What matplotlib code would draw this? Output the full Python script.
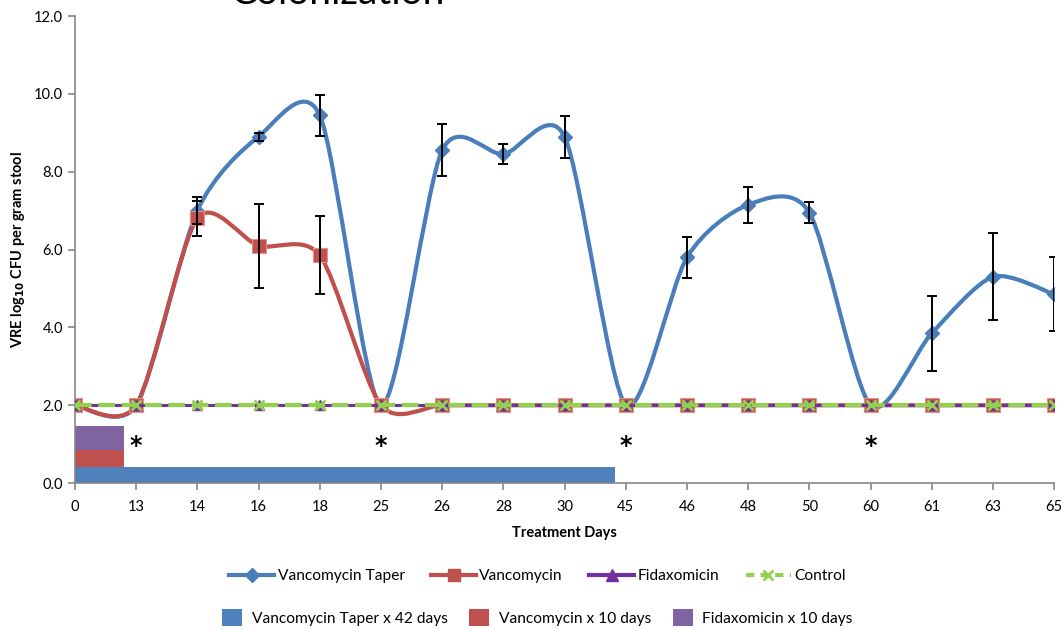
import numpy as np
import matplotlib.pyplot as plt
from matplotlib.path import Path
from matplotlib.patches import PathPatch, Patch
from matplotlib.lines import Line2D

plt.rcParams['font.family'] = ['Lato', 'DejaVu Sans']

# categories on the x axis (treatment days)
days = ["0", "13", "14", "16", "18", "25", "26", "28", "30",
        "45", "46", "48", "50", "60", "61", "63", "65"]

taper = [2.0, 2.0, 7.0, 8.9, 9.45, 2.0, 8.55, 8.45, 8.9,
         2.0, 5.8, 7.15, 6.95, 2.0, 3.85, 5.3, 4.85]
taper_err = [0, 0, 0.35, 0.1, 0.52, 0, 0.67, 0.25, 0.54,
             0, 0.52, 0.47, 0.28, 0, 0.96, 1.12, 0.95]

vanco = [2.0, 2.0, 6.8, 6.1, 5.85, 2.0, 2.0, 2.0, 2.0,
         2.0, 2.0, 2.0, 2.0, 2.0, 2.0, 2.0, 2.0]
vanco_err = [0, 0, 0.45, 1.08, 1.0, 0, 0, 0, 0,
             0, 0, 0, 0, 0, 0, 0, 0]

fidax = [2.0] * 17
control = [2.0] * 17

# treatment duration bars (length in category units along the x axis)
bar_labels = ["Vancomycin Taper x 42 days", "Vancomycin x 10 days", "Fidaxomicin x 10 days"]
bar_length = [8.82, 0.8, 0.8]

# significance markers
star_pos = [1, 5, 9, 13]

BLUE = "#4A7EBB"
RED = "#C0504D"
PURPLE = "#7030A0"
GREEN = "#92D050"
BAR_COLORS = ["#4F81BD", "#C0504D", "#8064A2"]


def smooth_path(xs, ys, k=7.5):
    """Excel-like smoothed line as cubic bezier path."""
    pts = np.column_stack([xs, ys]).astype(float)
    ext = np.vstack([pts[0], pts, pts[-1]])
    verts = [pts[0]]
    codes = [Path.MOVETO]
    for i in range(len(pts) - 1):
        p0, p1, p2, p3 = ext[i], ext[i + 1], ext[i + 2], ext[i + 3]
        c1 = p1 + (p2 - p0) / k
        c2 = p2 - (p3 - p1) / k
        verts += [c1, c2, p2]
        codes += [Path.CURVE4] * 3
    return Path(verts, codes)


x = np.arange(len(days))

fig = plt.figure(figsize=(10.62, 6.29), dpi=100)
ax = fig.add_axes([0.0706, 0.232, 0.922, 0.7425])

# treatment bars
bar_bottom = [0.0, 0.42, 0.85]
bar_height = [0.42, 0.43, 0.61]
for L, b, h, c in zip(bar_length, bar_bottom, bar_height, BAR_COLORS):
    ax.barh(b + h / 2, L, height=h, left=0, color=c, edgecolor="none", zorder=1)

# smoothed series lines
ax.add_patch(PathPatch(smooth_path(x, taper), facecolor="none", edgecolor=BLUE,
                       lw=3, capstyle="round", zorder=3))
ax.plot(x, taper, ls="none", marker="D", ms=7, color=BLUE, zorder=3.1)

ax.add_patch(PathPatch(smooth_path(x, vanco), facecolor="none", edgecolor=RED,
                       lw=3, capstyle="round", zorder=4))
ax.plot(x, vanco, ls="none", marker="s", ms=10, color=RED, mec="#E6908E",
        mew=0.8, zorder=4.1)

ax.plot(x, fidax, color=PURPLE, lw=2.2, marker="^", ms=7, zorder=5)
ax.plot(x, control, color=GREEN, lw=3, ls=(0, (4, 1.6)), marker="x", ms=7,
        mew=2, zorder=6)

# error bars
te = np.array(taper_err)
m = te > 0
ax.errorbar(x[m], np.array(taper)[m], yerr=te[m], fmt="none", ecolor="black",
            elinewidth=1.4, capsize=3.5, capthick=1.4, zorder=7)
ve = np.array(vanco_err)
m = ve > 0
ax.errorbar(x[m], np.array(vanco)[m], yerr=ve[m], fmt="none", ecolor="black",
            elinewidth=1.4, capsize=3.5, capthick=1.4, zorder=7)

for sp in star_pos:
    ax.text(sp, 0.95, "*", ha="center", va="center", fontsize=17,
            fontweight="bold", family="DejaVu Sans")

ax.set_xlim(0, len(days) - 1)
ax.set_ylim(0, 12)
ax.set_xticks(x)
ax.set_xticklabels(days)
ax.set_yticks(np.arange(0, 12.1, 2))
ax.set_yticklabels([f"{v:.1f}" for v in np.arange(0, 12.1, 2)])
ax.tick_params(axis="both", colors="#868686", labelcolor="black", labelsize=10.5,
               length=5, width=1.2)
ax.tick_params(axis="x", pad=7)
for s in ["top", "right"]:
    ax.spines[s].set_visible(False)
for s in ["left", "bottom"]:
    ax.spines[s].set_color("#868686")
    ax.spines[s].set_linewidth(1.2)

ax.set_xlabel("Treatment Days", fontsize=10.5, fontweight="bold", labelpad=9)
ax.set_ylabel(r"VRE log$_{\mathbf{10}}$ CFU per gram stool", fontsize=10.5,
              fontweight="bold", labelpad=5)

# title cut off at the top of the image
fig.text(0.318, 0.994, "Colonization", fontsize=28, ha="center", va="baseline")

line_handles = [
    Line2D([], [], color=BLUE, lw=3, marker="D", ms=7),
    Line2D([], [], color=RED, lw=3, marker="s", ms=9),
    Line2D([], [], color=PURPLE, lw=3, marker="^", ms=8),
    Line2D([], [], color=GREEN, lw=3, ls=(0, (2, 1.5)), marker="x", ms=7, mew=2),
]
leg1 = fig.legend(line_handles, ["Vancomycin Taper", "Vancomycin", "Fidaxomicin", "Control"],
                  loc="center", bbox_to_anchor=(0.506, 0.084), ncol=4, frameon=False,
                  fontsize=11.2, handlelength=2.9, columnspacing=1.7, handletextpad=0.2)

bar_handles = [Patch(facecolor=c, edgecolor="none") for c in BAR_COLORS]
leg2 = fig.legend(bar_handles, bar_labels, loc="center", bbox_to_anchor=(0.506, 0.018),
                  ncol=3, frameon=False, fontsize=11.2, handlelength=1.3,
                  handleheight=1.3, columnspacing=1.4, handletextpad=0.6)

fig.savefig("out.png", dpi=100)
